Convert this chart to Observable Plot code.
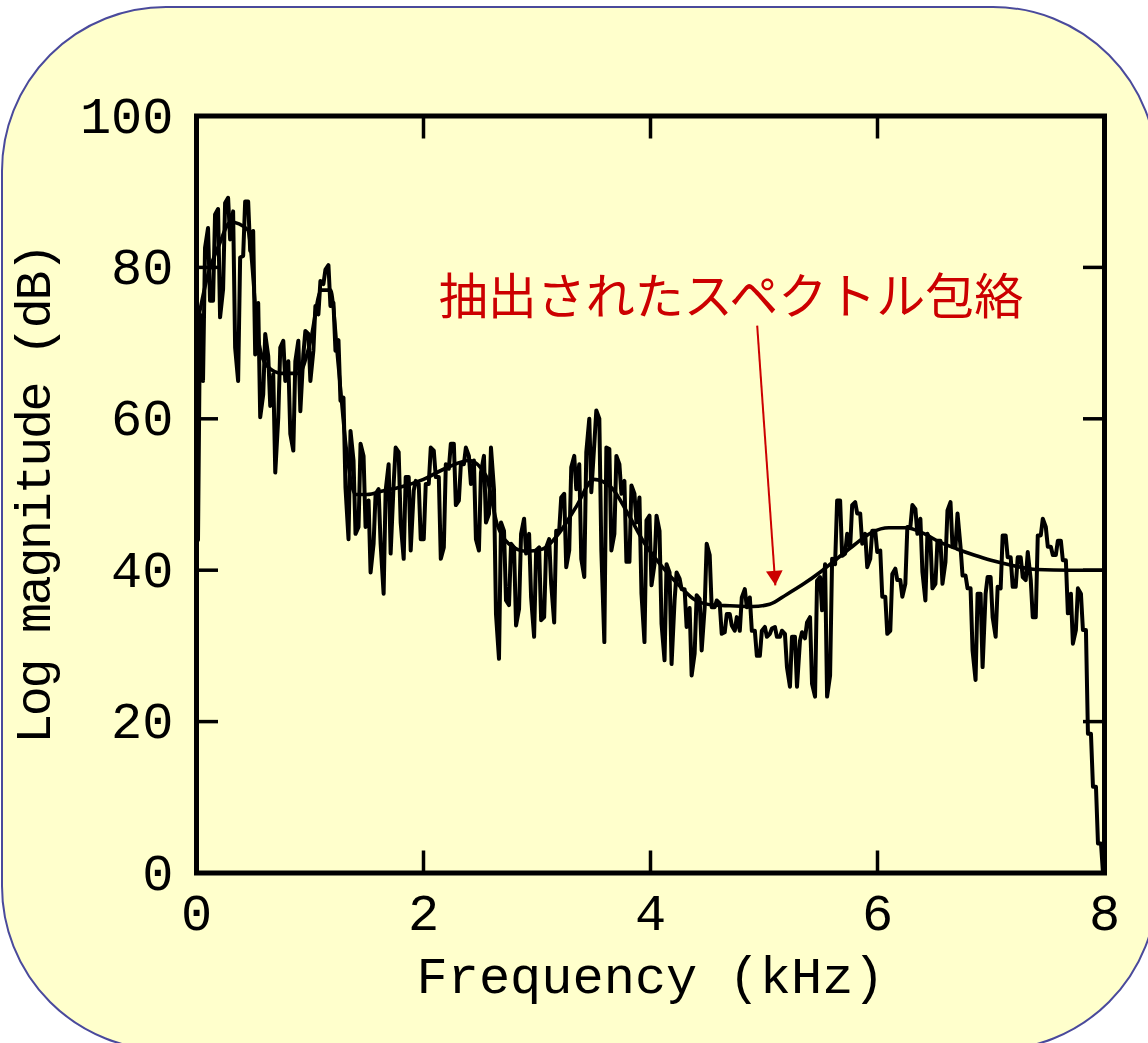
<!DOCTYPE html>
<html>
<head>
<meta charset="utf-8">
<script src="https://cdn.jsdelivr.net/npm/d3@7"></script>
<script src="https://cdn.jsdelivr.net/npm/@observablehq/plot@0.6"></script>
<style>
  html, body { margin: 0; padding: 0; background: #ffffff; }
  body { width: 1148px; height: 1043px; overflow: hidden; position: relative; }
  #panel {
    position: absolute; left: 1px; top: 6px; width: 1157px; height: 1045px;
    box-sizing: border-box; border: 2px solid #4a4a9c; border-radius: 165px;
    background: #ffffcc;
  }
  #chart { position: absolute; left: 0; top: 0; }
</style>
</head>
<body>
<div id="panel"></div>
<div id="chart"></div>
<script>
// ---- data ----
const xTicks = [0, 2, 4, 6, 8];
const yTicks = [0, 20, 40, 60, 80, 100];
const xLabel = "Frequency (kHz)";
const yLabel = "Log magnitude (dB)";
const annotationLabel = "抽出されたスペクトル包絡";

// log-magnitude spectrum: per frequency bin (0–8 kHz, 181 bins) the low and high extent of the trace (dB)
const specLow = [
  44.0, 65.0, 75.6, 75.6, 73.4, 77.1, 83.7, 69.4, 65.0, 81.5,
  82.2, 68.5, 60.2, 63.2, 61.7, 52.9, 60.2, 65.0, 58.0, 55.8,
  61.0, 68.5, 65.0, 69.0, 73.8, 77.8, 74.9, 69.0, 62.4, 50.9,
  44.1, 44.8, 45.7, 45.7, 39.7, 43.5, 43.5, 36.9, 42.2, 51.4,
  46.3, 41.5, 42.6, 50.5, 44.1, 44.1, 51.4, 52.3, 41.5, 43.0,
  53.4, 48.6, 49.2, 54.0, 51.4, 44.1, 42.6, 46.3, 47.4, 34.2,
  28.3, 36.0, 35.4, 32.7, 34.9, 42.2, 36.4, 31.2, 33.4, 33.8,
  38.2, 33.1, 45.2, 40.4, 42.6, 50.7, 41.5, 39.1, 50.3, 56.7,
  42.6, 30.5, 42.6, 44.8, 50.1, 41.1, 41.1, 46.3, 36.9, 30.5,
  38.0, 40.8, 32.9, 28.1, 27.6, 36.0, 37.5, 32.5, 26.1, 29.0,
  29.4, 35.1, 35.1, 35.1, 31.6, 31.8, 32.7, 32.0, 32.0, 35.1,
  32.0, 28.7, 28.7, 31.2, 31.6, 31.2, 31.2, 27.2, 24.6, 24.6,
  30.7, 31.0, 25.0, 23.3, 34.7, 23.3, 26.1, 40.8, 41.9, 42.2,
  43.0, 47.5, 43.5, 40.4, 41.5, 42.4, 36.5, 31.6, 32.0, 38.7,
  36.5, 38.2, 45.7, 44.8, 39.8, 36.0, 37.6, 38.2, 38.2, 41.1,
  43.1, 43.1, 39.3, 37.6, 29.4, 25.5, 27.2, 36.9, 33.8, 31.2,
  37.6, 41.7, 37.8, 37.8, 39.1, 38.7, 33.8, 33.8, 44.6, 43.1,
  42.0, 42.0, 41.3, 34.3, 30.3, 32.1, 32.1, 18.4, 11.4, 3.9,
  0.0
];
const specHigh = [
  73.8, 82.6, 85.2, 87.0, 87.7, 88.5, 89.2, 87.4, 81.3, 88.7,
  88.7, 84.8, 75.3, 71.2, 68.3, 65.9, 69.4, 70.3, 67.6, 67.6,
  70.3, 71.6, 71.2, 74.9, 78.2, 79.7, 80.3, 75.3, 70.4, 62.8,
  58.4, 54.5, 56.7, 55.1, 49.2, 50.1, 50.7, 50.5, 54.0, 56.2,
  55.6, 52.3, 52.3, 51.8, 51.4, 51.4, 56.2, 55.8, 52.3, 54.0,
  56.7, 56.7, 54.0, 56.2, 55.1, 54.5, 52.9, 55.1, 56.2, 50.7,
  46.3, 45.2, 43.5, 43.0, 44.8, 46.8, 44.8, 42.6, 43.0, 43.0,
  44.1, 45.2, 49.6, 50.1, 53.6, 55.1, 54.0, 55.6, 60.0, 61.1,
  60.0, 56.2, 56.0, 55.1, 54.0, 51.8, 51.2, 50.1, 49.6, 46.6,
  47.2, 47.2, 45.2, 40.8, 39.7, 39.7, 38.9, 37.5, 35.0, 36.7,
  36.2, 43.5, 42.0, 36.0, 35.6, 34.2, 34.2, 33.8, 36.4, 37.5,
  36.4, 32.0, 32.0, 32.5, 32.3, 32.5, 32.0, 31.6, 31.2, 31.2,
  31.8, 33.1, 33.8, 38.6, 39.1, 40.8, 41.5, 49.2, 49.2, 44.8,
  48.6, 49.0, 47.5, 44.8, 45.2, 45.2, 42.6, 36.5, 39.5, 40.2,
  38.7, 45.7, 48.6, 48.1, 46.8, 44.8, 43.9, 43.9, 43.9, 47.9,
  49.0, 47.5, 43.1, 39.3, 37.6, 36.9, 36.9, 39.1, 39.1, 37.8,
  44.6, 44.6, 41.7, 41.7, 41.7, 42.4, 38.7, 44.6, 46.8, 45.7,
  43.1, 43.9, 43.9, 41.3, 36.9, 37.6, 36.9, 32.1, 18.4, 11.4,
  3.9
];

// extracted spectral envelope
const envFreq = [0, 0.1, 0.2, 0.3, 0.45, 0.55, 0.62, 0.75, 0.9, 1.0, 1.1, 1.18, 1.25, 1.32, 1.4, 1.5, 1.65, 1.8, 2.0, 2.2, 2.4, 2.55, 2.65, 2.75, 2.9, 3.05, 3.2, 3.35, 3.5, 3.65, 3.8, 3.95, 4.1, 4.25, 4.4, 4.55, 4.7, 4.9, 5.05, 5.2, 5.35, 5.5, 5.65, 5.8, 5.95, 6.1, 6.25, 6.4, 6.55, 6.7, 6.85, 7.0, 7.2, 7.4, 7.7, 8.0];
const envDb   = [72, 79, 83, 86, 85, 70, 67, 66, 66, 70, 77, 77, 67, 56, 50, 50, 50.5, 51, 52, 53.5, 54.5, 52.5, 46, 43.5, 42.5, 42.8, 45, 48.5, 52, 51, 47.5, 43.5, 40.5, 38, 36, 35.4, 35.3, 35.2, 35.5, 36.8, 38.2, 39.8, 41.6, 43.4, 45, 45.6, 45.6, 44.9, 43.7, 42.8, 42, 41.3, 40.6, 40.1, 40, 40];

// ---- build mark data ----
const binWidth = 8 / specLow.length;
const spectrum = [];
let prev = specLow[0];
specLow.forEach((lo, i) => {
  const hi = specHigh[i];
  const first = Math.abs(prev - lo) <= Math.abs(prev - hi) ? lo : hi;
  const second = first === lo ? hi : lo;
  spectrum.push({f: (i + 0.3) * binWidth, db: first});
  spectrum.push({f: (i + 0.7) * binWidth, db: second});
  prev = second;
});
const envelope = envFreq.map((f, i) => ({f, db: envDb[i]}));

const red = "#cc0000";
const arrowData = [{x1: 4.94, y1: 72.3, x2: 5.10, y2: 38.0}];
const noLabel = () => "";

const chart = Plot.plot({
  width: 1148,
  height: 1043,
  marginLeft: 196,
  marginRight: 44,
  marginTop: 115.5,
  marginBottom: 170.5,
  x: {domain: [0, 8]},
  y: {domain: [0, 100]},
  style: {background: "transparent", color: "black", fontFamily: "'Liberation Mono', 'DejaVu Sans Mono', monospace"},
  marks: [
    Plot.line(envelope, {x: "f", y: "db", curve: "monotone-x", stroke: "black", strokeWidth: 3.6}),
    Plot.line(spectrum, {x: "f", y: "db", stroke: "black", strokeWidth: 4}),
    Plot.frame({stroke: "black", strokeWidth: 5}),
    // inward ticks on all four sides
    Plot.axisX(xTicks, {anchor: "bottom", tickSize: -22, strokeWidth: 3.5, tickFormat: noLabel, label: null}),
    Plot.axisX(xTicks, {anchor: "top", tickSize: -22, strokeWidth: 3.5, tickFormat: noLabel, label: null}),
    Plot.axisY(yTicks, {anchor: "left", tickSize: -22, strokeWidth: 3.5, tickFormat: noLabel, label: null}),
    Plot.axisY(yTicks, {anchor: "right", tickSize: -22, strokeWidth: 3.5, tickFormat: noLabel, label: null}),
    // tick labels
    Plot.axisX(xTicks, {anchor: "bottom", tickSize: 0, tickPadding: 20, fontSize: 52, label: null, tickFormat: d => String(d)}),
    Plot.axisY(yTicks, {anchor: "left", tickSize: 0, tickPadding: 23, fontSize: 52, label: null, tickFormat: d => String(d)}),
    // axis titles
    Plot.text([xLabel], {text: d => d, frameAnchor: "bottom", textAnchor: "middle", lineAnchor: "middle", dy: 103, fontSize: 52, fill: "black"}),
    Plot.text([yLabel], {text: d => d, frameAnchor: "left", textAnchor: "middle", lineAnchor: "middle", dx: -163, rotate: -90, fontSize: 50, fill: "black", className: "ylab"}),
    // annotation
    Plot.text([annotationLabel], {text: d => d, x: 4.71, y: 75.9, fontSize: 49, fill: red, fontFamily: "'Noto Sans CJK JP', sans-serif"}),
    Plot.link(arrowData, {x1: "x1", y1: "y1", x2: "x2", y2: "y2", stroke: red, strokeWidth: 2}),
    Plot.dot(arrowData, {x: "x2", y: "y2", symbol: "triangle", r: 6.2, fill: red, stroke: "none", rotate: 176, dx: -0.7, dy: -9.6})
  ]
});

const ylab = chart.querySelector(".ylab text");
if (ylab) { ylab.style.letterSpacing = "-2.3px"; }

document.getElementById("chart").appendChild(chart);
</script>
</body>
</html>
